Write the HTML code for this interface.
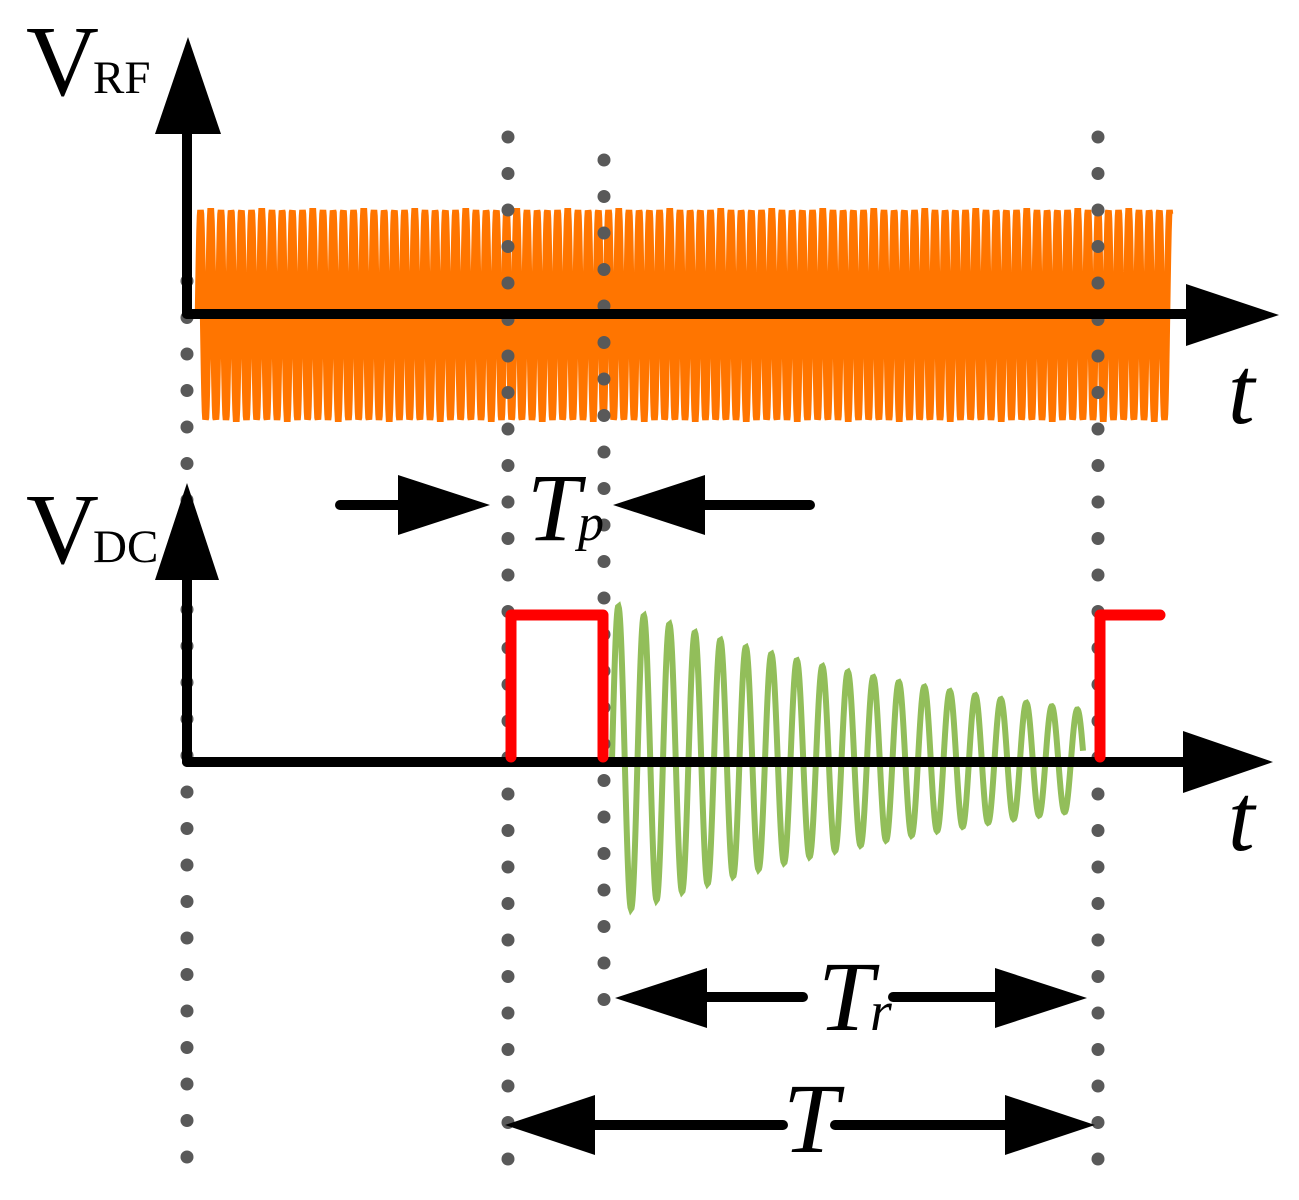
<!DOCTYPE html>
<html><head><meta charset="utf-8"><style>
html,body{margin:0;padding:0;background:#fff;}
svg{display:block;}
</style></head><body>
<svg id="s" width="1299" height="1200" viewBox="0 0 1299 1200" xmlns="http://www.w3.org/2000/svg">
<path id="rf" fill="none" stroke="#ff7500" stroke-width="6.5"/>
<path id="gr" fill="none" stroke="#92be5a" stroke-width="6"/>
<g id="dots" fill="#595959"></g>
<!-- axes -->
<g stroke="#000" stroke-width="10" stroke-linecap="round">
<line x1="187" y1="130" x2="187" y2="314"/>
<line x1="187" y1="314" x2="1190" y2="314"/>
<line x1="187" y1="575" x2="187" y2="762"/>
<line x1="187" y1="762" x2="1186" y2="762"/>
<line x1="340" y1="505" x2="400" y2="505"/>
<line x1="700" y1="505" x2="810" y2="505"/>
<line x1="700" y1="997" x2="803" y2="997"/>
<line x1="893" y1="997" x2="1000" y2="997"/>
<line x1="590" y1="1125" x2="783" y2="1125"/>
<line x1="835" y1="1125" x2="1010" y2="1125"/>
</g>
<g fill="#000">
<polygon points="155,134 221,134 188,37"/>
<polygon points="1186,284 1186,346 1279,315"/>
<polygon points="155,580 219,580 187,483"/>
<polygon points="1183,731 1183,793 1273,762"/>
<polygon points="398,475 398,535 490,505"/>
<polygon points="705,475 705,535 613,505"/>
<polygon points="707,968 707,1028 615,998"/>
<polygon points="995,968 995,1028 1087,998"/>
<polygon points="595,1095 595,1155 505,1125"/>
<polygon points="1005,1095 1005,1155 1095,1125"/>
</g>
<g fill="none" stroke="#ff0000" stroke-width="11" stroke-linecap="round" stroke-linejoin="round">
<path d="M511,757 L511,615 L603,615 L603,757"/>
<path d="M1100,757 L1100,615 L1160,615"/>
</g>
<g font-family="Liberation Serif, DejaVu Serif, serif" fill="#000">
<text x="26" y="95" font-size="101">V</text>
<text x="93" y="93" font-size="47">RF</text>
<text x="26" y="563" font-size="101">V</text>
<text x="93" y="562" font-size="47">DC</text>
<text x="1228" y="423" font-size="96" font-style="italic">t</text>
<text x="1228" y="850" font-size="96" font-style="italic">t</text>
<text x="527" y="540" font-size="96" font-style="italic">T</text>
<text x="578" y="540" font-size="52" font-style="italic">p</text>
<text x="818" y="1030" font-size="100" font-style="italic">T</text>
<text x="870" y="1030" font-size="56" font-style="italic">r</text>
<text x="783" y="1152" font-size="100" font-style="italic">T</text>
</g>
</svg>
<script>
var d="";
for(var x=198;x<=1170;x+=0.5){var y=315-105*Math.sin(2*Math.PI*(x-198)/10.2);d+=(x==198?"M":"L")+x+","+y.toFixed(1);}
document.getElementById("rf").setAttribute("d",d);
var g="";var k=Math.log(156/50)/470;
for(var x=612;x<=1083;x+=0.5){var A=156*Math.exp(-k*(x-612));var y=760-A*Math.sin(2*Math.PI*(x-612)/25.5);g+=(x==612?"M":"L")+x+","+y.toFixed(1);}
document.getElementById("gr").setAttribute("d",g);
var dots=document.getElementById("dots"),h="";
function col(x,y0,y1){for(var y=y0;y<=y1;y+=36.5)h+='<circle cx="'+x+'" cy="'+y+'" r="6.5"/>';}
col(187,281,1160);col(508,137,1162);col(604,160,1000);col(1098,137,1162);
dots.innerHTML=h;
</script>
</body></html>
